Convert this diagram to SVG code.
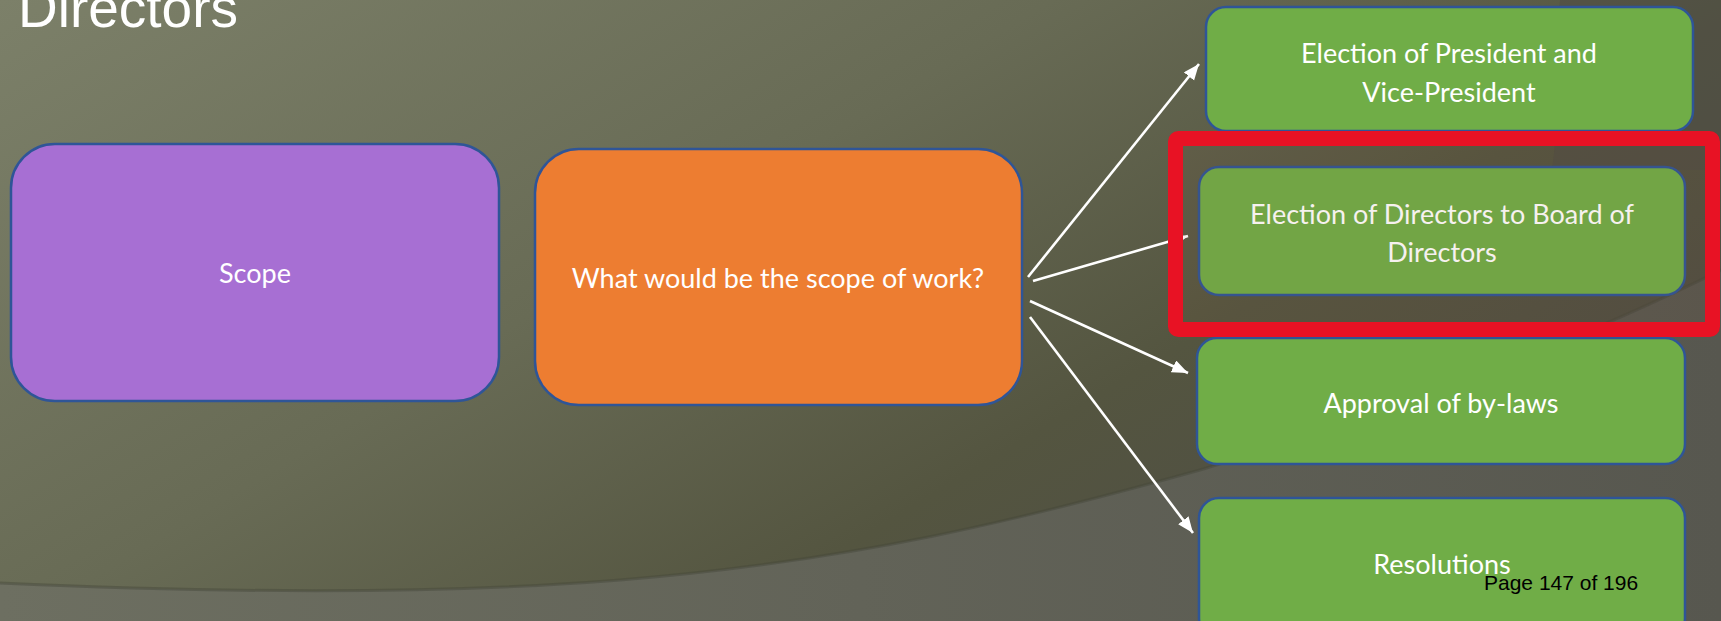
<svg xmlns="http://www.w3.org/2000/svg" width="1721" height="621" viewBox="0 0 1721 621">
  <defs>
    <linearGradient id="bgMain" x1="0" y1="0" x2="1" y2="0.6">
      <stop offset="0" stop-color="#7c8069"/>
      <stop offset="0.45" stop-color="#686b55"/>
      <stop offset="0.75" stop-color="#545540"/>
      <stop offset="1" stop-color="#4e4d44"/>
    </linearGradient>
    <linearGradient id="bgBand" x1="0" y1="0" x2="1" y2="0">
      <stop offset="0" stop-color="#6d6f61"/>
      <stop offset="1" stop-color="#57574f"/>
    </linearGradient>
    <marker id="arrow" markerUnits="userSpaceOnUse" markerWidth="18" markerHeight="14" refX="16" refY="6.5" orient="auto">
      <path d="M0,0 L16,6.5 L0,13 Z" fill="#ffffff"/>
    </marker>
    <style>
      .box { stroke: #2f5597; stroke-width: 2.5; }
      .purple { fill: #a76fd3; }
      .orange { fill: #ed7d31; }
      .green { fill: #70ad47; }
      .lbl { font-family: Lato, "Open Sans", "Liberation Sans", sans-serif; font-size: 27px; fill: #ffffff; text-anchor: middle; dominant-baseline: central; }
      .conn { stroke: #ffffff; stroke-width: 2.6; fill: none; marker-end: url(#arrow); }
    </style>
  </defs>

  <g id="background">
    <rect x="0" y="0" width="1721" height="621" fill="url(#bgMain)"/>
    <path d="M1560,0 C1555,60 1560,120 1552,170 L1721,170 L1721,0 Z" fill="#4d4c45" opacity="0.5"/>
    <path d="M0,583 C200,592 420,596 620,580 C860,560 1020,520 1200,470 C1400,410 1580,340 1721,270 L1721,621 L0,621 Z" fill="url(#bgBand)"/>
    <path d="M0,583 C200,592 420,596 620,580 C860,560 1020,520 1200,470 C1400,410 1580,340 1721,270" fill="none" stroke="#45463a" stroke-width="3" opacity="0.45"/>
  </g>

  <text x="18" y="27" font-family="'Liberation Sans', Arial, sans-serif" font-size="55" fill="#ffffff">Directors</text>

  <g id="n-scope">
    <rect class="box purple" x="11" y="144" width="488" height="257" rx="44" ry="44"/>
    <text class="lbl" x="255" y="272">Scope</text>
  </g>

  <g id="n-question">
    <rect class="box orange" x="535" y="149" width="487" height="256" rx="44" ry="44"/>
    <text class="lbl" x="778" y="277">What would be the scope of work?</text>
  </g>

  <g id="n-president">
    <rect class="box green" x="1206" y="7" width="487" height="124" rx="20" ry="20"/>
    <text class="lbl" x="1449" y="52">Election of President and</text>
    <text class="lbl" x="1449" y="91">Vice-President</text>
  </g>

  <g id="n-directors">
    <rect class="box green" x="1199" y="167" width="486" height="128" rx="20" ry="20"/>
    <text class="lbl" x="1442" y="213">Election of Directors to Board of</text>
    <text class="lbl" x="1442" y="251">Directors</text>
  </g>

  <g id="n-bylaws">
    <rect class="box green" x="1197" y="338" width="488" height="126" rx="20" ry="20"/>
    <text class="lbl" x="1441" y="402">Approval of by-laws</text>
  </g>

  <g id="n-resolutions">
    <rect class="box green" x="1199" y="498" width="486" height="140" rx="20" ry="20"/>
    <text class="lbl" x="1442" y="563">Resolutions</text>
  </g>

  <g id="connectors">
    <line class="conn" x1="1028" y1="277" x2="1199" y2="64"/>
    <line class="conn" x1="1033" y1="281" x2="1188" y2="236"/>
    <line class="conn" x1="1030" y1="301" x2="1188" y2="373"/>
    <line class="conn" x1="1030" y1="317" x2="1193" y2="533"/>
  </g>

  <g id="highlight">
    <rect x="1175.5" y="138.5" width="537" height="191" rx="3" ry="3" fill="#8a4a30" fill-opacity="0.08" stroke="#e81224" stroke-width="15"/>
  </g>

  <text x="1484" y="590" font-family="'Liberation Sans', Arial, sans-serif" font-size="21" fill="#000000">Page 147 of 196</text>
</svg>
